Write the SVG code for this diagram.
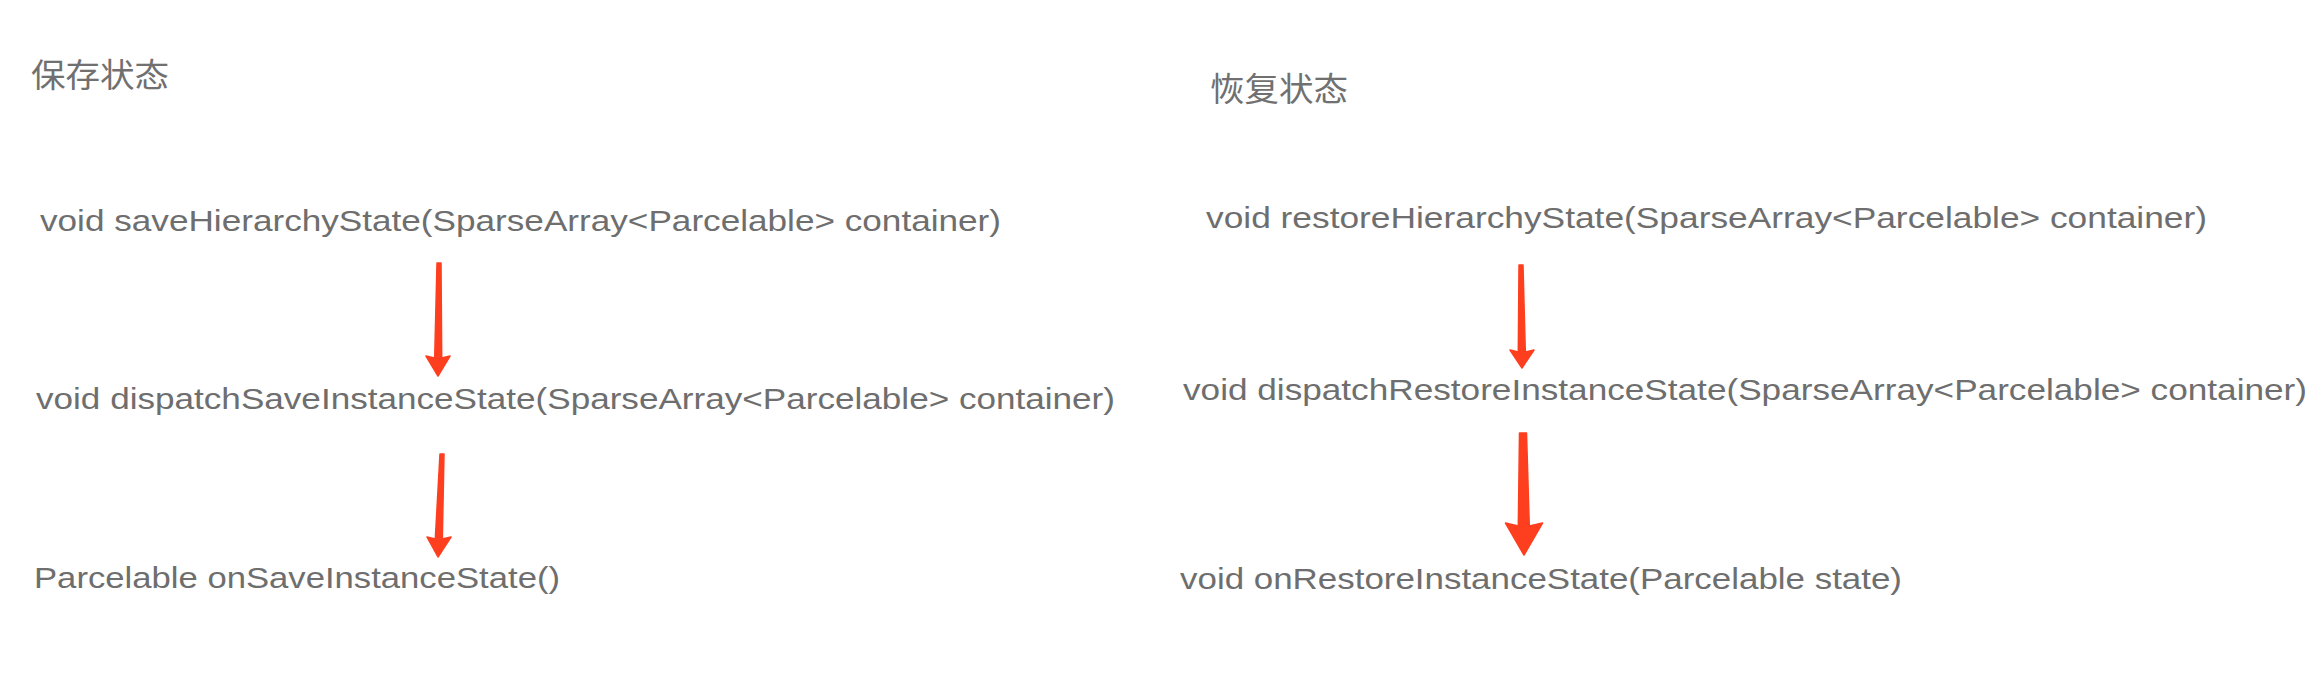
<svg xmlns="http://www.w3.org/2000/svg" width="2322" height="692" viewBox="0 0 2322 692">
  <style>
    .title { font-family: "Noto Sans CJK SC", "Liberation Sans", sans-serif; font-size: 33px; fill: #707070; }
    .code { font-family: "Liberation Sans", Arial, sans-serif; font-size: 29px; fill: #6e6e6e; }
    .arrow { fill: #fe3f1f; stroke: #fe3f1f; stroke-width: 1.5; stroke-linejoin: round; }
  </style>
  <rect width="2322" height="692" fill="#ffffff"/>

  <g id="title-save">
    <text class="title" x="31" y="87" textLength="138" lengthAdjust="spacingAndGlyphs">保存状态</text>
  </g>
  <g id="title-restore">
    <text class="title" x="1210" y="101" textLength="138" lengthAdjust="spacingAndGlyphs">恢复状态</text>
  </g>

  <g id="node-saveHierarchyState">
    <text class="code" x="40" y="231" textLength="961" lengthAdjust="spacingAndGlyphs">void saveHierarchyState(SparseArray&lt;Parcelable&gt; container)</text>
  </g>
  <g id="node-dispatchSaveInstanceState">
    <text class="code" x="36" y="409" textLength="1079" lengthAdjust="spacingAndGlyphs">void dispatchSaveInstanceState(SparseArray&lt;Parcelable&gt; container)</text>
  </g>
  <g id="node-onSaveInstanceState">
    <text class="code" x="34" y="588" textLength="526" lengthAdjust="spacingAndGlyphs">Parcelable onSaveInstanceState()</text>
  </g>

  <g id="node-restoreHierarchyState">
    <text class="code" x="1206" y="228" textLength="1001" lengthAdjust="spacingAndGlyphs">void restoreHierarchyState(SparseArray&lt;Parcelable&gt; container)</text>
  </g>
  <g id="node-dispatchRestoreInstanceState">
    <text class="code" x="1183" y="400" textLength="1124" lengthAdjust="spacingAndGlyphs">void dispatchRestoreInstanceState(SparseArray&lt;Parcelable&gt; container)</text>
  </g>
  <g id="node-onRestoreInstanceState">
    <text class="code" x="1180" y="589" textLength="722" lengthAdjust="spacingAndGlyphs">void onRestoreInstanceState(Parcelable state)</text>
  </g>

  <g id="connectors">
    <path class="arrow" d="M437,263 L434.7,358 L426,356 L438,376 L450,356 L441.7,358 L441,263 Z"/>
    <path class="arrow" d="M440,454 L435.3,539 L427,537 L438,557 L451,537 L442.3,539 L444,454 Z"/>
    <path class="arrow" d="M1519,265 L1518.3,352 L1510,350 L1522,368 L1534,350 L1525.3,352 L1523,265 Z"/>
    <path class="arrow" d="M1519.5,433 L1518.3,526 L1505.5,523 L1524,555 L1542.5,523 L1529.3,526 L1526.5,433 Z"/>
  </g>
</svg>
